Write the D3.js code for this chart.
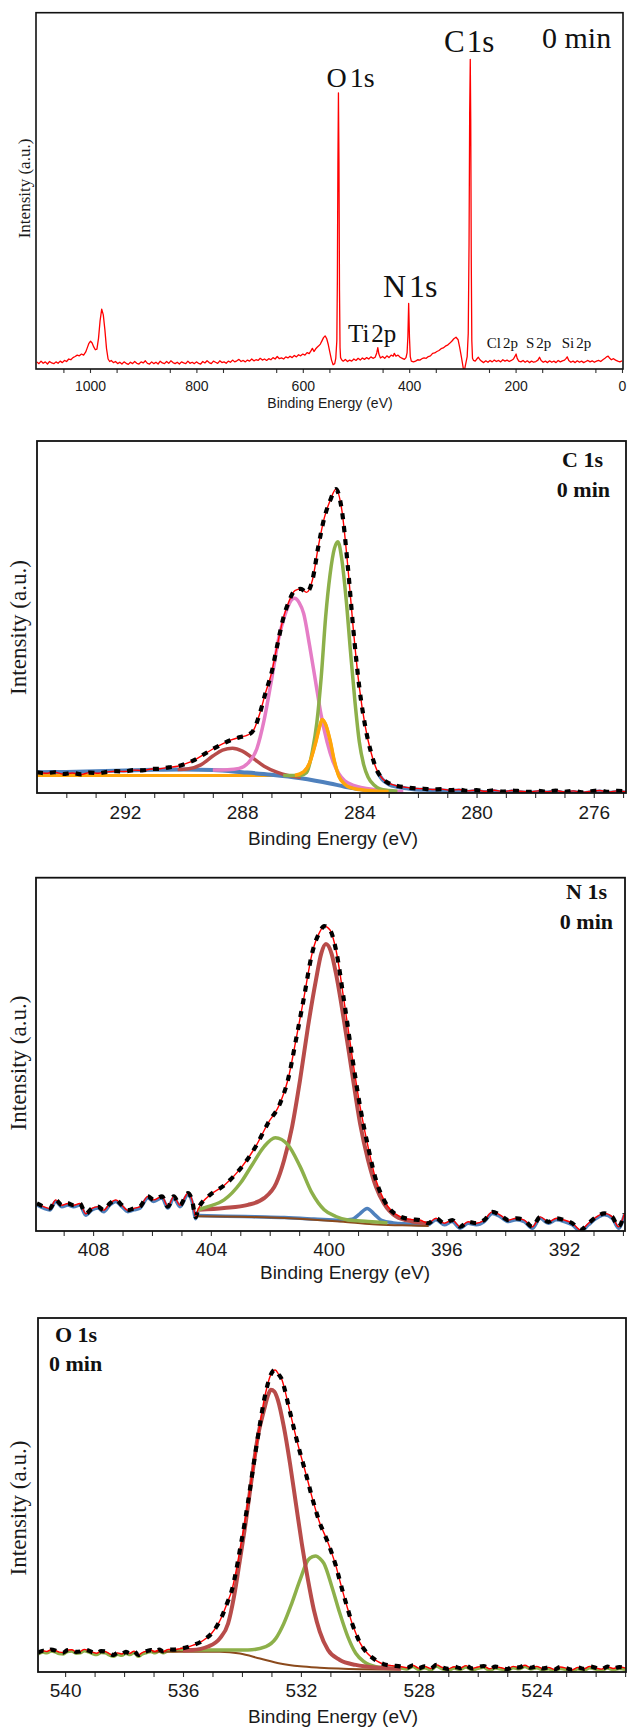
<!DOCTYPE html>
<html><head><meta charset="utf-8">
<script src="https://cdn.jsdelivr.net/npm/d3@7"></script>
<style>body{margin:0;background:#fff;} svg{display:block;}</style>
</head><body>
<svg id="c" width="627" height="1731"></svg>
<script>
// ---------------- DATA ----------------
// Survey spectrum: [binding energy (eV), intensity (% of axis height)]
const survey = [
[1100,2.0],[1096,1.5],[1092,2.2],[1088,1.6],[1084,2.0],[1080,1.4],[1076,2.1],[1072,1.7],[1068,1.5],[1064,2.0],[1060,1.6],[1056,2.2],[1052,1.8],[1048,2.4],[1044,2.1],[1040,2.8],[1036,2.6],[1032,3.2],[1028,3.5],[1024,3.9],[1020,3.7],[1016,4.2],[1012,3.9],[1008,4.8],[1005,6.0],[1002,7.2],[999,7.8],[996,7.3],[993,6.2],[990,5.4],[987,5.6],[984,8.6],[981,13.6],[978,16.8],[975,15.2],[972,11.0],[969,5.8],[966,2.8],[963,2.1],[960,2.4],[956,1.8],[952,2.1],[948,1.5],[944,1.9],[940,1.4],[936,2.0],[932,1.6],[928,1.3],[924,1.9],[920,1.5],[916,2.1],[912,1.6],[908,1.4],[904,2.0],[900,1.7],[896,2.3],[892,1.6],[888,1.4],[884,2.0],[880,1.5],[876,1.9],[872,1.4],[868,2.2],[864,1.7],[860,1.5],[856,2.1],[852,1.6],[848,2.3],[844,1.8],[840,1.5],[836,1.9],[832,1.4],[828,2.0],[824,1.7],[820,1.5],[816,2.2],[812,1.6],[808,1.9],[804,1.5],[800,2.0],[796,1.6],[792,1.4],[788,2.1],[784,1.7],[780,2.3],[776,1.8],[772,1.5],[768,2.2],[764,1.9],[760,1.6],[756,2.3],[752,1.8],[748,2.0],[744,1.6],[740,2.2],[736,1.9],[732,2.5],[728,2.0],[724,2.3],[720,2.7],[716,2.1],[712,2.4],[708,2.0],[704,2.5],[700,2.2],[696,2.8],[692,2.3],[688,2.6],[684,2.4],[680,3.0],[676,2.5],[672,2.8],[668,2.4],[664,2.9],[660,2.6],[656,3.2],[652,2.8],[648,3.5],[644,2.9],[640,3.1],[636,2.8],[632,3.4],[628,3.1],[624,3.6],[620,3.2],[616,3.8],[612,3.4],[608,4.0],[604,3.7],[600,4.2],[596,3.9],[592,4.6],[588,4.3],[585,5.0],[582,5.8],[579,4.9],[576,5.6],[573,6.1],[570,6.5],[567,7.0],[564,7.9],[561,8.8],[558,9.3],[555,8.5],[552,6.8],[549,4.6],[546,2.5],[543,1.2],[540,1.5],[538,3.0],[536,8.0],[535,25.0],[534,58.0],[533,77.5],[532,58.0],[531,22.0],[530,6.0],[529,3.2],[527,2.6],[524,2.2],[520,2.7],[516,2.1],[512,2.5],[508,2.2],[504,2.8],[500,2.4],[496,3.0],[492,2.5],[488,3.1],[484,2.7],[480,3.2],[476,2.8],[472,3.4],[468,3.0],[464,3.3],[461,4.5],[459,6.0],[457,4.2],[454,3.1],[450,3.5],[446,3.0],[442,3.7],[438,3.2],[434,3.9],[430,3.6],[428,4.4],[425,3.6],[421,3.9],[417,3.3],[413,3.0],[409,2.7],[406,3.2],[404,4.5],[402.5,9.0],[401,18.4],[399.5,9.0],[398,3.5],[396,2.2],[392,2.0],[388,2.2],[384,2.6],[380,2.5],[376,2.9],[372,3.1],[368,3.0],[364,3.5],[360,3.7],[356,4.4],[352,4.5],[348,4.9],[344,5.2],[340,5.7],[336,5.9],[332,6.4],[328,6.7],[324,7.2],[320,7.8],[316,8.5],[312,8.9],[308,8.2],[305,6.0],[302,3.5],[299,0.8],[297,-1],[295,0.5],[293,2.0],[291,3.5],[289,10.0],[287.5,35.0],[286.3,72.0],[285.2,86.9],[284.3,70.0],[283.3,30.0],[282.3,8.0],[281,3.0],[279,2.4],[276,2.2],[273,2.8],[270,3.3],[267,2.6],[264,2.2],[260,1.8],[256,2.3],[252,1.9],[248,2.4],[244,2.0],[240,2.5],[236,2.1],[232,2.4],[228,2.0],[224,2.6],[220,2.2],[216,2.5],[212,2.1],[208,2.4],[204,2.8],[201,3.6],[199,4.2],[197,3.0],[194,2.2],[190,2.0],[186,2.4],[182,1.9],[178,2.3],[174,1.8],[170,2.2],[166,1.9],[162,2.1],[158,2.5],[155,3.3],[152,2.4],[148,1.9],[144,2.2],[140,1.8],[136,2.3],[132,1.9],[128,2.2],[124,1.8],[120,2.4],[116,2.0],[112,2.3],[108,2.5],[105,3.0],[103,3.4],[100,2.4],[96,1.9],[92,2.2],[88,1.8],[84,2.3],[80,1.9],[76,2.2],[72,1.8],[68,2.1],[64,2.4],[60,2.0],[56,2.3],[52,1.9],[48,2.2],[44,2.4],[40,2.1],[36,2.6],[32,3.0],[29,3.4],[26,3.6],[23,3.0],[20,2.6],[16,2.9],[12,2.5],[8,2.2],[4,2.0],[0,2.3]
];
const surveyTicks = [1000, 800, 600, 400, 200, 0];
const surveyLabels = ["O1s", "C1s", "N1s", "Ti2p", "Cl2p", "S2p", "Si2p"];

// C 1s high resolution
const c1sRaw = [
[295,5.9],[294.7,5.6],[294.4,5.9],[294.1,5.4],[293.8,5.7],[293.5,5.3],[293.2,5.8],[292.9,5.6],[292.6,6.0],[292.3,6.2],[292,6.1],[291.7,6.5],[291.4,6.4],[291.1,6.8],[290.8,6.9],[290.5,7.3],[290.2,7.6],[289.9,8.4],[289.6,9.5],[289.3,11.0],[289.0,12.5],[288.7,13.8],[288.4,15.0],[288.1,15.8],[287.8,16.5],[287.6,18.0],[287.4,22.5],[287.2,28.5],[287.0,34.0],[286.8,42.0],[286.6,49.5],[286.4,54.5],[286.2,57.5],[286.0,58.0],[285.8,57.0],[285.6,60.5],[285.4,70.0],[285.2,78.0],[285.0,83.0],[284.8,86.3],[284.6,80.5],[284.4,65.0],[284.2,46.0],[284.0,30.0],[283.8,19.0],[283.6,11.5],[283.4,6.5],[283.2,4.0],[283.0,2.8],[282.7,2.0],[282.4,1.6],[282.1,1.3],[281.8,1.2],[281.5,1.0],[281.2,1.1],[280.9,0.8],[280.6,1.0],[280.3,0.6],[280,0.8],[279.7,0.5],[279.4,0.8],[279.1,0.4],[278.8,0.7],[278.5,0.5],[278.2,0.3],[277.9,0.6],[277.6,0.4],[277.3,0.7],[277,0.3],[276.7,0.6],[276.4,0.2],[276.1,0.5],[275.8,0.7],[275.5,0.3],[275.2,0.6],[274.9,0.4]
];
const c1sGreen = [[286.6,5.0],[286.0,5.0],[285.8,5.8],[285.6,12.0],[285.45,20.0],[285.3,33.0],[285.15,50.0],[285.0,62.0],[284.85,69.5],[284.73,71.4],[284.6,66.5],[284.45,55.0],[284.3,40.0],[284.15,26.0],[284.0,14.5],[283.85,8.0],[283.7,4.5],[283.5,2.3],[283.3,1.2],[283.0,0.7],[282.7,0.5]];
const c1sOrange = [[295,5.0],[293,5.0],[291,5.0],[289,5.0],[287,5.0],[286.2,5.0],[285.9,6.0],[285.7,8.5],[285.5,14.0],[285.35,19.0],[285.27,20.9],[285.15,19.5],[285.0,15.0],[284.85,9.0],[284.7,4.8],[284.5,2.5],[284.3,1.5],[284.0,1.0],[283.5,0.6],[283.0,0.4]];
const c1sPink = [[289.0,6.5],[288.5,6.6],[288.1,7.0],[287.8,8.5],[287.5,12.5],[287.25,20.7],[287.0,32.0],[286.75,44.0],[286.5,51.5],[286.3,55.0],[286.21,55.3],[286.05,54.0],[285.9,51.0],[285.7,42.0],[285.5,32.0],[285.3,22.0],[285.1,14.5],[284.9,9.0],[284.7,5.5],[284.5,3.5],[284.2,2.2],[283.9,1.5],[283.5,1.0],[283.0,0.6],[282.5,0.4]];
const c1sBrown = [[290.2,6.7],[289.82,6.9],[289.41,8.0],[289.0,10.5],[288.67,12.2],[288.33,12.7],[287.99,11.9],[287.65,10.0],[287.25,7.6],[286.84,6.0],[286.44,5.0],[286.0,4.5]];
const c1sBg = [[295,5.9],[294,6.0],[293,6.2],[292,6.4],[291,6.6],[290,6.7],[289,6.5],[288,5.9],[287,5.2],[286,4.2],[285.5,3.5],[285,2.7],[284.5,1.8],[284,1.1],[283.5,0.6],[283,0.3]];
const c1sTicks = [292, 288, 284, 280, 276];

// N 1s high resolution
const n1sRaw = [
[409.91,7.8],[409.68,6.9],[409.47,6.4],[409.27,8.8],[409.06,7.3],[408.86,7.8],[408.66,7.3],[408.45,7.8],[408.25,4.9],[408.04,6.4],[407.84,6.9],[407.64,5.9],[407.43,7.8],[407.23,8.8],[407.02,7.3],[406.82,5.9],[406.62,6.4],[406.41,6.9],[406.14,9.8],[405.94,8.8],[405.66,9.8],[405.46,6.9],[405.26,9.8],[405.05,7.3],[404.78,10.7],[404.64,8.8],[404.51,3.9],
[404.44,6.0],[404.1,9.7],[403.55,12.9],[403.0,17.6],[402.47,24.0],[402.06,30.5],[401.65,36.1],[401.38,42.8],[401.11,54.0],[400.83,66.4],[400.56,78.6],[400.29,84.8],[400.15,86.3],[399.95,85.2],[399.75,79.6],[399.48,65.4],[399.2,49.4],[398.93,35.2],[398.66,23.9],[398.39,14.4],[398.12,8.8],[397.84,5.5],[397.57,4.1],[397.2,3.3],[396.9,3.1],
[396.62,2.2],[396.35,3.6],[396.07,2.2],[395.8,3.1],[395.53,1.2],[395.26,2.6],[394.98,2.2],[394.71,3.1],[394.44,5.4],[394.17,4.5],[393.9,3.1],[393.62,3.6],[393.35,3.1],[393.08,1.2],[392.81,4.0],[392.53,2.6],[392.26,3.6],[391.99,3.1],[391.72,2.2],[391.44,0.3],[391.17,2.2],[390.9,4.0],[390.63,5.0],[390.36,4.0],[390.15,1.2],[389.95,5.0]
];
const n1sRed = [[404.4,6.0],[403.55,6.5],[402.74,7.4],[402.19,9.3],[401.78,13.5],[401.51,20.1],[401.24,29.5],[400.97,42.7],[400.7,57.8],[400.43,71.0],[400.25,78.5],[400.09,81.2],[399.9,78.5],[399.75,72.9],[399.48,59.7],[399.2,44.6],[398.93,30.4],[398.66,20.1],[398.39,12.5],[398.12,7.8],[397.7,4.1],[397.16,2.7],[396.6,2.2]];
const n1sGreen = [[404.44,6.0],[404.1,6.9],[403.55,8.8],[403.0,13.5],[402.6,18.7],[402.19,23.9],[401.81,26.4],[401.38,24.4],[400.97,18.3],[400.56,10.7],[400.15,6.0],[399.75,4.1],[399.34,3.1],[398.66,2.7],[398.0,2.3]];
const n1sBlue = [[404.44,4.4],[403.5,4.2],[402.5,4.0],[401.5,3.8],[400.5,3.4],[399.6,3.0],[399.2,3.3],[398.95,4.8],[398.69,6.4],[398.45,4.8],[398.2,3.0],[397.8,2.3],[397.3,2.0],[396.8,1.8],[396.6,2.0]];
const n1sBg = [[404.44,4.2],[403,4.0],[401.5,3.7],[400.5,3.2],[399.5,2.6],[398.5,1.9],[397.5,1.6],[396.6,1.4]];
const n1sTicks = [408, 404, 400, 396, 392];

// O 1s high resolution
const o1sRaw = [
[540.92,5.5],[540.75,6.0],[540.62,5.8],[540.48,6.3],[540.34,6.1],[540.2,5.6],[540.06,5.5],[539.92,6.2],[539.77,6.3],[539.63,5.7],[539.49,5.8],[539.35,6.4],[539.21,6.1],[539.07,5.6],[538.93,5.3],[538.78,5.9],[538.64,5.8],[538.5,5.2],[538.36,4.8],[538.22,5.4],[538.08,5.1],[537.94,5.7],[537.8,5.3],[537.66,5.9],[537.52,4.8],[537.38,5.5],[537.23,5.9],[537.09,6.2],[536.95,5.8],[536.81,6.3],[536.67,5.8],[536.5,6.4],[536.33,6.3],[536.1,6.6],
[535.87,7.0],[535.65,7.6],[535.42,8.4],[535.2,9.6],[535.02,11.0],[534.85,13.0],[534.68,15.7],[534.5,19.5],[534.34,23.2],[534.2,28.5],[534.07,34.5],[533.93,41.0],[533.8,47.7],[533.66,55.5],[533.53,62.7],[533.39,70.0],[533.25,76.8],[533.15,80.5],[533.05,83.4],[532.95,85.0],[532.87,85.3],[532.75,84.0],[532.64,82.5],[532.54,79.5],[532.44,75.9],[532.3,71.0],[532.17,66.5],[532.03,62.0],[531.9,58.1],[531.76,53.8],[531.63,49.6],[531.5,45.8],[531.36,42.1],[531.22,39.3],[531.08,36.5],[530.95,33.5],[530.81,29.9],[530.68,25.8],[530.54,21.5],[530.4,17.5],[530.27,13.9],[530.14,11.0],[530.0,8.3],[529.8,5.8],[529.59,4.1],[529.4,3.0],[529.19,2.2],[528.9,1.8],[528.64,1.6],
[528.4,1.2],[528.2,1.9],[528.0,1.1],[527.8,1.6],[527.6,1.0],[527.4,2.0],[527.2,1.3],[527.0,0.9],[526.8,1.5],[526.6,1.1],[526.4,1.8],[526.2,1.0],[526.0,1.4],[525.8,1.7],[525.6,0.9],[525.4,1.5],[525.2,1.2],[525.0,0.8],[524.8,1.6],[524.6,1.3],[524.4,1.9],[524.2,1.2],[524.0,1.6],[523.8,1.0],[523.6,1.3],[523.4,0.7],[523.2,1.4],[523.0,1.1],[522.8,0.6],[522.6,1.3],[522.4,0.9],[522.2,1.6],[522.0,1.2],[521.8,0.8],[521.6,1.5],[521.4,1.0],[521.2,1.4],[520.97,1.1]
];
const o1sRed = [[536.0,6.1],[535.69,6.2],[535.15,7.2],[534.75,9.5],[534.47,13.7],[534.27,21.3],[534.07,31.6],[533.86,43.0],[533.66,55.2],[533.46,66.5],[533.25,74.0],[533.1,78.5],[533.02,79.7],[532.9,79.2],[532.78,76.8],[532.58,69.3],[532.37,58.9],[532.17,47.6],[531.97,36.3],[531.76,26.0],[531.56,17.5],[531.36,11.4],[531.08,6.2],[530.68,3.4],[530.14,2.0],[529.32,1.2],[528.6,0.9]];
const o1sGreen = [[536.1,6.4],[535.5,6.2],[534.75,6.2],[533.8,6.2],[533.19,7.2],[532.85,9.5],[532.58,13.7],[532.31,19.4],[532.03,26.0],[531.76,31.6],[531.6,32.6],[531.49,32.8],[531.35,32.0],[531.22,30.7],[530.95,24.1],[530.68,16.6],[530.41,10.0],[530.14,5.3],[529.86,2.9],[529.46,1.5],[528.9,1.0]];
const o1sBg = [[537.05,5.7],[534.75,5.7],[534.07,5.2],[533.39,3.8],[532.71,2.4],[532.03,1.6],[531.36,1.2],[530.0,0.8],[528.64,0.7]];
const o1sTicks = [540, 536, 532, 528, 524];

// ---------------- DRAWING ----------------
const C = {red:'#ff0000', black:'#000', blue:'#4f81bd', dred:'#b84c4a', green:'#8db04a',
           pink:'#e57dc6', orange:'#ffa50a', brown:'#8b4a1c'};
const SANS = "'Liberation Sans', Arial, sans-serif";
const SERIF = "'Liberation Serif', 'Times New Roman', serif";
const DASH = '6,7';
const svg = d3.select('#c');

function drawPanel(o) {
  const x = d3.scaleLinear().domain(o.xDomain).range([o.left, o.right]);
  const y = d3.scaleLinear().domain([0, 100]).range([o.bottom, o.top]);
  const g = svg.append('g');
  const cid = 'clip-' + o.id;
  g.append('clipPath').attr('id', cid).append('rect')
    .attr('x', o.left).attr('y', o.top).attr('width', o.right - o.left).attr('height', o.bottom - o.top);
  const plot = g.append('g').attr('clip-path', `url(#${cid})`);
  const line = d3.line().x(d => x(d[0])).y(d => y(d[1])).curve(o.curve || d3.curveMonotoneX);
  o.series.forEach(s => {
    plot.append('path').datum(s.data).attr('d', line).attr('fill', 'none')
      .attr('stroke', s.color).attr('stroke-width', s.width)
      .attr('stroke-dasharray', s.dash || null)
      .attr('stroke-linejoin', 'round')
      .attr('stroke-linecap', s.cap || 'butt')
      .attr('transform', s.dy ? `translate(0,${s.dy})` : null);
  });
  const dom = x.domain(), lo = Math.min(dom[0], dom[1]), hi = Math.max(dom[0], dom[1]);
  const minor = o.minor.filter(v => v > lo + 0.01 && v < hi - 0.01 && !o.ticks.includes(v));
  const mg = g.append('g').attr('transform', `translate(0,${o.bottom})`)
    .call(d3.axisBottom(x).tickValues(minor).tickSize(o.tickLen).tickFormat(''));
  mg.select('.domain').remove();
  mg.selectAll('line').attr('stroke', '#333').attr('stroke-width', 1.1);
  const ax = g.append('g').attr('transform', `translate(0,${o.bottom})`)
    .call(d3.axisBottom(x).tickValues(o.ticks).tickSize(o.tickLen).tickPadding(o.pad).tickFormat(d3.format('d')));
  ax.select('.domain').remove();
  ax.selectAll('line').attr('stroke', '#333').attr('stroke-width', 1.1);
  ax.selectAll('text').attr('font-family', SANS).attr('font-size', o.tickFont).attr('fill', '#1a1a1a');
  g.append('rect').attr('x', o.left).attr('y', o.top).attr('width', o.right - o.left).attr('height', o.bottom - o.top)
    .attr('fill', 'none').attr('stroke', '#111').attr('stroke-width', o.frameW);
  g.append('text').attr('x', o.xTitleX).attr('y', o.xTitleY).attr('text-anchor', 'middle')
    .attr('font-family', SANS).attr('font-size', o.xTitleFont).attr('fill', '#1a1a1a').text('Binding Energy (eV)');
  g.append('text').attr('transform', `translate(${o.yTitleX},${o.yTitleY}) rotate(-90)`).attr('text-anchor', 'middle')
    .attr('font-family', SERIF).attr('font-size', o.yTitleFont).attr('fill', '#1a1a1a').text('Intensity (a.u.)');
  return {g, x, y};
}

function splitLabel(g, txt, splitAt, xp, yp, size, gap, opts = {}) {
  const t = g.append('text').attr('x', xp).attr('y', yp).attr('font-family', SERIF)
    .attr('font-size', size).attr('fill', '#111').attr('font-weight', opts.bold ? 'bold' : null)
    .attr('text-anchor', opts.anchor || 'start');
  t.append('tspan').text(txt.slice(0, splitAt));
  t.append('tspan').attr('dx', gap).text(txt.slice(splitAt));
  return t;
}

// Panel 1: survey
const p1 = drawPanel({
  id: 'survey', left: 36, right: 623, top: 12.7, bottom: 369, xDomain: [1101.5, -1.9],
  series: [{data: survey, color: C.red, width: 1.3}], curve: d3.curveLinear,
  ticks: surveyTicks, minor: d3.range(50, 1100, 100), tickLen: 4, pad: 8.5, tickFont: 14,
  frameW: 1.6, xTitleX: 330, xTitleY: 408, xTitleFont: 14, yTitleX: 30, yTitleY: 188.5, yTitleFont: 17
});
splitLabel(p1.g, surveyLabels[0], 1, 326.5, 87, 28, 3);
splitLabel(p1.g, surveyLabels[1], 1, 444, 52, 31, 2);
splitLabel(p1.g, surveyLabels[2], 1, 383, 296.7, 32, 3);
splitLabel(p1.g, surveyLabels[3], 2, 348, 341.7, 25, 2);
splitLabel(p1.g, surveyLabels[4], 2, 486.7, 348.3, 15, 2);
splitLabel(p1.g, surveyLabels[5], 1, 526, 348.3, 15, 2);
splitLabel(p1.g, surveyLabels[6], 2, 561.7, 348.3, 15, 2);
p1.g.append('text').attr('x', 542).attr('y', 48.3).attr('font-family', SERIF).attr('font-size', 30)
  .attr('fill', '#111').text('0 min');

// Panel 2: C 1s
const intRange = (a, b) => d3.range(a, b + 1);
const p2 = drawPanel({
  id: 'c1s', left: 37, right: 626, top: 441, bottom: 793, xDomain: [295, 274.9],
  series: [
    {data: c1sOrange, color: C.orange, width: 3},
    {data: c1sBg, color: C.blue, width: 4},
    {data: c1sRaw.filter(d => d[0] <= 283.4), color: C.blue, width: 4, dy: 1},
    {data: c1sBrown, color: C.dred, width: 3.5},
    {data: c1sPink, color: C.pink, width: 3.5},
    {data: c1sGreen, color: C.green, width: 3.5},
    {data: c1sOrange.filter(d => d[0] <= 286.2), color: C.orange, width: 3.5},
    {data: c1sRaw, color: C.red, width: 1.4},
    {data: c1sRaw, color: C.black, width: 4.2, dash: DASH}
  ],
  ticks: c1sTicks, minor: intRange(275, 295), tickLen: 5, pad: 8, tickFont: 19,
  frameW: 1.8, xTitleX: 333, xTitleY: 845, xTitleFont: 19, yTitleX: 25.5, yTitleY: 627.5, yTitleFont: 23
});
splitLabel(p2.g, 'C 1s', 4, 603, 466.7, 22, 0, {bold: true, anchor: 'end'});
splitLabel(p2.g, '0 min', 5, 610, 496.7, 22, 0, {bold: true, anchor: 'end'});

// Panel 3: N 1s
const p3 = drawPanel({
  id: 'n1s', left: 36, right: 625, top: 877.7, bottom: 1231, xDomain: [409.94, 389.93],
  series: [
    {data: n1sRaw.filter(d => d[0] >= 404.44), color: C.blue, width: 3.5, dy: 1.5},
    {data: n1sRaw.filter(d => d[0] <= 396.9), color: C.blue, width: 3.5, dy: 1.5},
    {data: n1sBlue, color: C.blue, width: 3.5},
    {data: n1sBg, color: C.brown, width: 2},
    {data: n1sRed, color: C.dred, width: 4},
    {data: n1sGreen, color: C.green, width: 3.5},
    {data: n1sRaw, color: C.red, width: 1.4},
    {data: n1sRaw, color: C.black, width: 4.2, dash: DASH}
  ],
  ticks: n1sTicks, minor: intRange(390, 410), tickLen: 5, pad: 6.5, tickFont: 19,
  frameW: 1.8, xTitleX: 345, xTitleY: 1279, xTitleFont: 19, yTitleX: 25.5, yTitleY: 1063, yTitleFont: 23
});
splitLabel(p3.g, 'N 1s', 4, 607, 899.3, 22, 0, {bold: true, anchor: 'end'});
splitLabel(p3.g, '0 min', 5, 613, 929.3, 22, 0, {bold: true, anchor: 'end'});

// Panel 4: O 1s
const p4 = drawPanel({
  id: 'o1s', left: 38, right: 626, top: 1318, bottom: 1672, xDomain: [540.92, 520.97],
  series: [
    {data: o1sRaw.filter(d => d[0] >= 536.1), color: C.green, width: 3.2, dy: 1.5},
    {data: o1sRaw.filter(d => d[0] <= 528.9), color: C.green, width: 3.2, dy: 1.5},
    {data: o1sBg, color: C.brown, width: 2},
    {data: o1sGreen, color: C.green, width: 3.5},
    {data: o1sRed, color: C.dred, width: 4},
    {data: o1sRaw, color: C.red, width: 1.4},
    {data: o1sRaw, color: C.black, width: 4.2, dash: DASH}
  ],
  ticks: o1sTicks, minor: intRange(521, 541), tickLen: 5, pad: 6.2, tickFont: 19,
  frameW: 1.8, xTitleX: 333, xTitleY: 1723, xTitleFont: 19, yTitleX: 25.5, yTitleY: 1508, yTitleFont: 23
});
splitLabel(p4.g, 'O 1s', 4, 55, 1341.7, 22, 0, {bold: true});
splitLabel(p4.g, '0 min', 5, 49, 1370.7, 22, 0, {bold: true});
</script>
</body></html>
